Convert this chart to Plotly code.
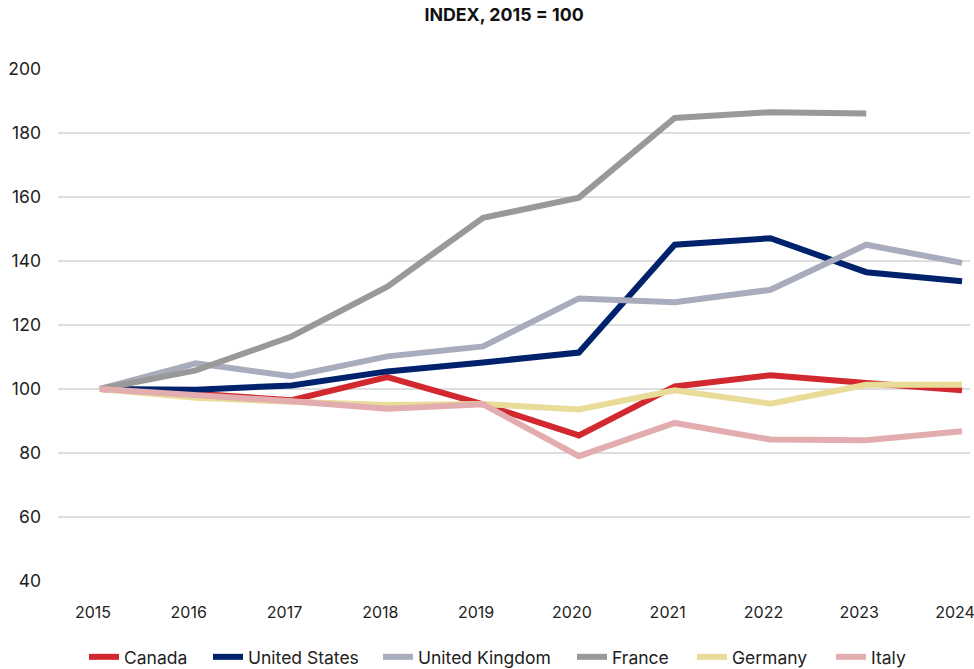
import plotly.graph_objects as go

years = ["2015", "2016", "2017", "2018", "2019", "2020", "2021", "2022", "2023", "2024"]

canada = [100, 98.5, 96.5, 103.7, 95.2, 85.5, 100.8, 104.3, 101.9, 99.6]
united_states = [100, 99.8, 101.1, 105.5, 108.3, 111.4, 145.1, 147.1, 136.5, 133.7]
united_kingdom = [100, 108, 104, 110.2, 113.3, 128.3, 127.1, 131, 145.1, 139.4]
france = [100, 105.8, 116.4, 132, 153.5, 159.8, 184.7, 186.5, 186.1, None]
germany = [100, 97.3, 96, 95, 95.3, 93.6, 99.6, 95.4, 101.3, 101.3]
italy = [100, 98.2, 96.2, 93.8, 95.2, 79, 89.4, 84.2, 84, 86.8]

series = [
    ("Canada", canada, "#d1292f"),
    ("United States", united_states, "#00216b"),
    ("United Kingdom", united_kingdom, "#a9acbd"),
    ("France", france, "#999999"),
    ("Germany", germany, "#e8dc98"),
    ("Italy", italy, "#e3adb0"),
]

y_ticks = [40, 60, 80, 100, 120, 140, 160, 180, 200]

# left edge (px) of each legend entry along the bottom row
legend_left_px = [84, 208, 378, 572, 692, 831]

fig = go.Figure()
legend_layouts = {}
for i, (name, values, color) in enumerate(series):
    key = "legend" if i == 0 else f"legend{i + 1}"
    fig.add_trace(go.Scatter(
        x=years, y=values, name=name, mode="lines",
        line=dict(color=color, width=6),
        legend=key,
        connectgaps=False,
    ))
    legend_layouts[key] = dict(
        orientation="h", xref="container", x=legend_left_px[i] / 974,
        xanchor="left", yref="container", y=0.018, yanchor="middle",
        font=dict(size=17.5), itemwidth=30, bgcolor="rgba(0,0,0,0)",
    )

fig.update_layout(
    width=974, height=669,
    margin=dict(l=58, r=4, t=69, b=88, autoexpand=False),
    paper_bgcolor="white", plot_bgcolor="white",
    font=dict(family="Inter, Roboto, sans-serif", size=17, color="#222222"),
    title=dict(text="<b>INDEX, 2015 = 100</b>", x=0.5175, xanchor="center",
               y=0.978, yanchor="middle", xref="container",
               font=dict(size=17.8, color="#111111")),
    showlegend=True,
    **legend_layouts,
)
fig.update_xaxes(
    type="category", range=[-0.438, 9.083], automargin=False,
    showgrid=False, showline=False, zeroline=False,
    ticks="", ticklabelstandoff=20, ticklabelshift=-7,
    tickfont=dict(size=16),
)
fig.update_yaxes(
    range=[40, 200], tickvals=y_ticks, automargin=False,
    showgrid=True, gridcolor="#dedede", gridwidth=2,
    showline=False, zeroline=False, ticks="", ticklabelstandoff=16,
    tickfont=dict(size=17.5),
)

fig.write_html("out.html")
